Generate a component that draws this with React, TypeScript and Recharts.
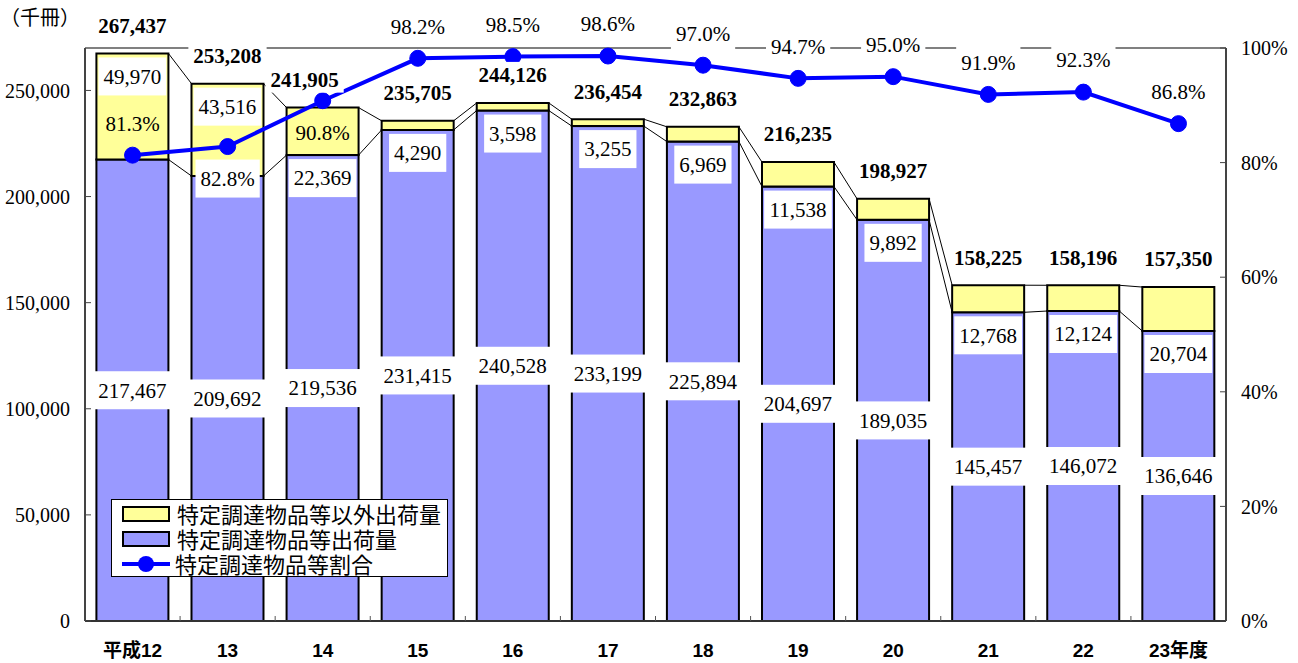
import { ComposedChart, Bar, Line, XAxis, YAxis, ReferenceLine, LabelList, Legend } from "recharts";

const years = ["平成12", "13", "14", "15", "16", "17", "18", "19", "20", "21", "22", "23年度"];
const targetShip = [217467, 209692, 219536, 231415, 240528, 233199, 225894, 204697, 189035, 145457, 146072, 136646];
const otherShip = [49970, 43516, 22369, 4290, 3598, 3255, 6969, 11538, 9892, 12768, 12124, 20704];
const totals = [267437, 253208, 241905, 235705, 244126, 236454, 232863, 216235, 198927, 158225, 158196, 157350];
const ratio = [81.3, 82.8, 90.8, 98.2, 98.5, 98.6, 97.0, 94.7, 95.0, 91.9, 92.3, 86.8];
const leftTicks = [0, 50000, 100000, 150000, 200000, 250000];
const rightTicks = [0, 20, 40, 60, 80, 100];

const data = years.map((year, i) => ({
  year,
  target: targetShip[i],
  other: otherShip[i],
  ratio: ratio[i],
}));

// layout
const W = 1298;
const H = 663;
const LEFT_W = 85;
const RIGHT_W = 72;
const BAND = (W - LEFT_W - RIGHT_W) / years.length;

const SERIF = "'Liberation Serif', 'Times New Roman', serif";
const SANS = "'Liberation Sans', 'Noto Sans CJK JP', sans-serif";
const CJK = "'Noto Sans CJK JP', sans-serif";

const fmt = (v: number) => v.toLocaleString("en-US");

const textW = (s: string, fs: number) =>
  s.split("").reduce((w, c) => w + (c === "," || c === "." ? 0.25 : c === "%" ? 0.833 : 0.5), 0) * fs;

const Box = ({ cx, cy, text, bold = false, bg = true, boxH = 38 }: any) => {
  const fs = 21;
  const w = textW(text, fs) + 10;
  return (
    <g>
      {bg && <rect x={cx - w / 2} y={cy - boxH / 2} width={w} height={boxH} fill="#fff" />}
      <text x={cx} y={cy} dy="0.35em" textAnchor="middle" fontFamily={SERIF} fontSize={fs} fontWeight={bold ? 700 : 400} fill="#000">
        {text}
      </text>
    </g>
  );
};

// blue segment + series lines to the next bar
const BlueShape = (props: any) => {
  const { x, y, width, height, index } = props;
  const k = height / targetShip[index];
  const base = y + height;
  const next = index + 1;
  return (
    <g>
      <rect x={x} y={y} width={width} height={height} fill="#9999FF" stroke="#000" strokeWidth={2} />
      {next < years.length && (
        <g stroke="#000" strokeWidth={1}>
          <line x1={x + width} y1={y} x2={x + BAND} y2={base - targetShip[next] * k} />
          <line x1={x + width} y1={base - totals[index] * k} x2={x + BAND} y2={base - totals[next] * k} />
        </g>
      )}
    </g>
  );
};

const XTick = (props: any) => {
  const { x, y, payload, index } = props;
  const half = payload?.offset ?? BAND / 2;
  return (
    <g>
      {index < years.length - 1 && <line x1={x + half} y1={y} x2={x + half} y2={y - 5} stroke="#555" />}
      <text x={x} y={y + 29} dy="0.35em" textAnchor="middle" fontFamily={SANS} fontWeight={700} fontSize={19} fill="#000">
        {payload.value}
      </text>
    </g>
  );
};

const LegendBox = () => {
  const row = { display: "flex", alignItems: "center", height: 25 } as const;
  const icon = (fill: string) => (
    <div style={{ width: 44, height: 12, background: fill, border: "2px solid #000", marginRight: 7 }} />
  );
  return (
    <div
      style={{
        width: 337,
        height: 78,
        boxSizing: "border-box",
        border: "1.5px solid #000",
        background: "#fff",
        padding: "1px 0 0 10px",
        fontFamily: CJK,
        fontSize: 22,
        lineHeight: "25px",
        color: "#000",
      }}
    >
      <div style={row}>{icon("#FFFF99")}特定調達物品等以外出荷量</div>
      <div style={row}>{icon("#9999FF")}特定調達物品等出荷量</div>
      <div style={row}>
        <svg width={48} height={20} style={{ marginRight: 5 }}>
          <line x1={0} y1={10} x2={48} y2={10} stroke="#0000FF" strokeWidth={4} />
          <circle cx={24} cy={10} r={8} fill="#0000FF" />
        </svg>
        特定調達物品等割合
      </div>
    </div>
  );
};

export default function App() {
  return (
    <div style={{ position: "absolute", left: 0, top: 0, width: W, height: H, background: "#fff" }}>
      <div style={{ position: "absolute", left: 0, top: 5, fontFamily: CJK, fontSize: 20, lineHeight: "24px", zIndex: 2 }}>
        （千冊）
      </div>
      <ComposedChart width={W} height={H} data={data} margin={{ top: 48, right: 0, bottom: 0, left: 0 }} barCategoryGap="12%">
        <ReferenceLine yAxisId="right" y={100} stroke="#808080" strokeWidth={2} />
        <XAxis
          dataKey="year"
          height={42}
          interval={0}
          tickLine={false}
          tickSize={0}
          tickMargin={0}
          axisLine={{ stroke: "#333", strokeWidth: 2 }}
          tick={<XTick />}
        />
        <YAxis
          yAxisId="left"
          width={LEFT_W}
          domain={[0, 270000]}
          ticks={leftTicks}
          interval={0}
          tickFormatter={fmt}
          tickSize={-6}
          tickMargin={21}
          axisLine={{ stroke: "#444", strokeWidth: 2 }}
          tickLine={{ stroke: "#444" }}
          tick={{ fill: "#000", fontSize: 20, fontFamily: SERIF }}
        />
        <YAxis
          yAxisId="right"
          orientation="right"
          width={RIGHT_W}
          domain={[0, 100]}
          ticks={rightTicks}
          interval={0}
          tickFormatter={(v: number) => `${v}%`}
          tickSize={-6}
          tickMargin={21}
          axisLine={{ stroke: "#444", strokeWidth: 2 }}
          tickLine={{ stroke: "#444" }}
          tick={{ fill: "#000", fontSize: 20, fontFamily: SERIF }}
        />
        <Legend
          layout="vertical"
          align="center"
          verticalAlign="middle"
          content={() => <LegendBox />}
          wrapperStyle={{ left: 111, top: 499, width: "auto", height: "auto" }}
        />
        <Bar
          yAxisId="left"
          dataKey="target"
          stackId="a"
          name="特定調達物品等出荷量"
          shape={BlueShape}
          isAnimationActive={false}
        >
          <LabelList
            dataKey="target"
            content={(p: any) => (
              <Box cx={p.x + p.width / 2} cy={p.y + p.height / 2} text={fmt(targetShip[p.index])} />
            )}
          />
        </Bar>
        <Bar
          yAxisId="left"
          dataKey="other"
          stackId="a"
          name="特定調達物品等以外出荷量"
          fill="#FFFF99"
          stroke="#000"
          strokeWidth={2}
          isAnimationActive={false}
        >
          <LabelList
            dataKey="other"
            content={(p: any) => (
              <Box
                cx={p.x + p.width / 2}
                cy={p.index < 2 ? p.y + 23 : p.y + p.height + 23}
                text={fmt(otherShip[p.index])}
              />
            )}
          />
          <LabelList
            dataKey="other"
            content={(p: any) => (
              <Box
                cx={p.x + p.width / 2 + (p.index === 2 ? -18 : 0)}
                cy={p.y - 28}
                text={fmt(totals[p.index])}
                bold
                boxH={26}
              />
            )}
          />
        </Bar>
        <Line
          yAxisId="right"
          dataKey="ratio"
          name="特定調達物品等割合"
          stroke="#0000FF"
          strokeWidth={4}
          dot={{ r: 8, fill: "#0000FF", stroke: "#0000FF", strokeWidth: 1 }}
          activeDot={false}
          isAnimationActive={false}
        >
          <LabelList
            dataKey="ratio"
            content={(p: any) => {
              const i = p.index;
              const below = i === 1 || i === 2;
              return (
                <Box
                  cx={p.x}
                  cy={below ? p.y + 32 : p.y - 32}
                  text={`${ratio[i].toFixed(1)}%`}
                  bg={i !== 0 && i !== 2}
                />
              );
            }}
          />
        </Line>
      </ComposedChart>
    </div>
  );
}
